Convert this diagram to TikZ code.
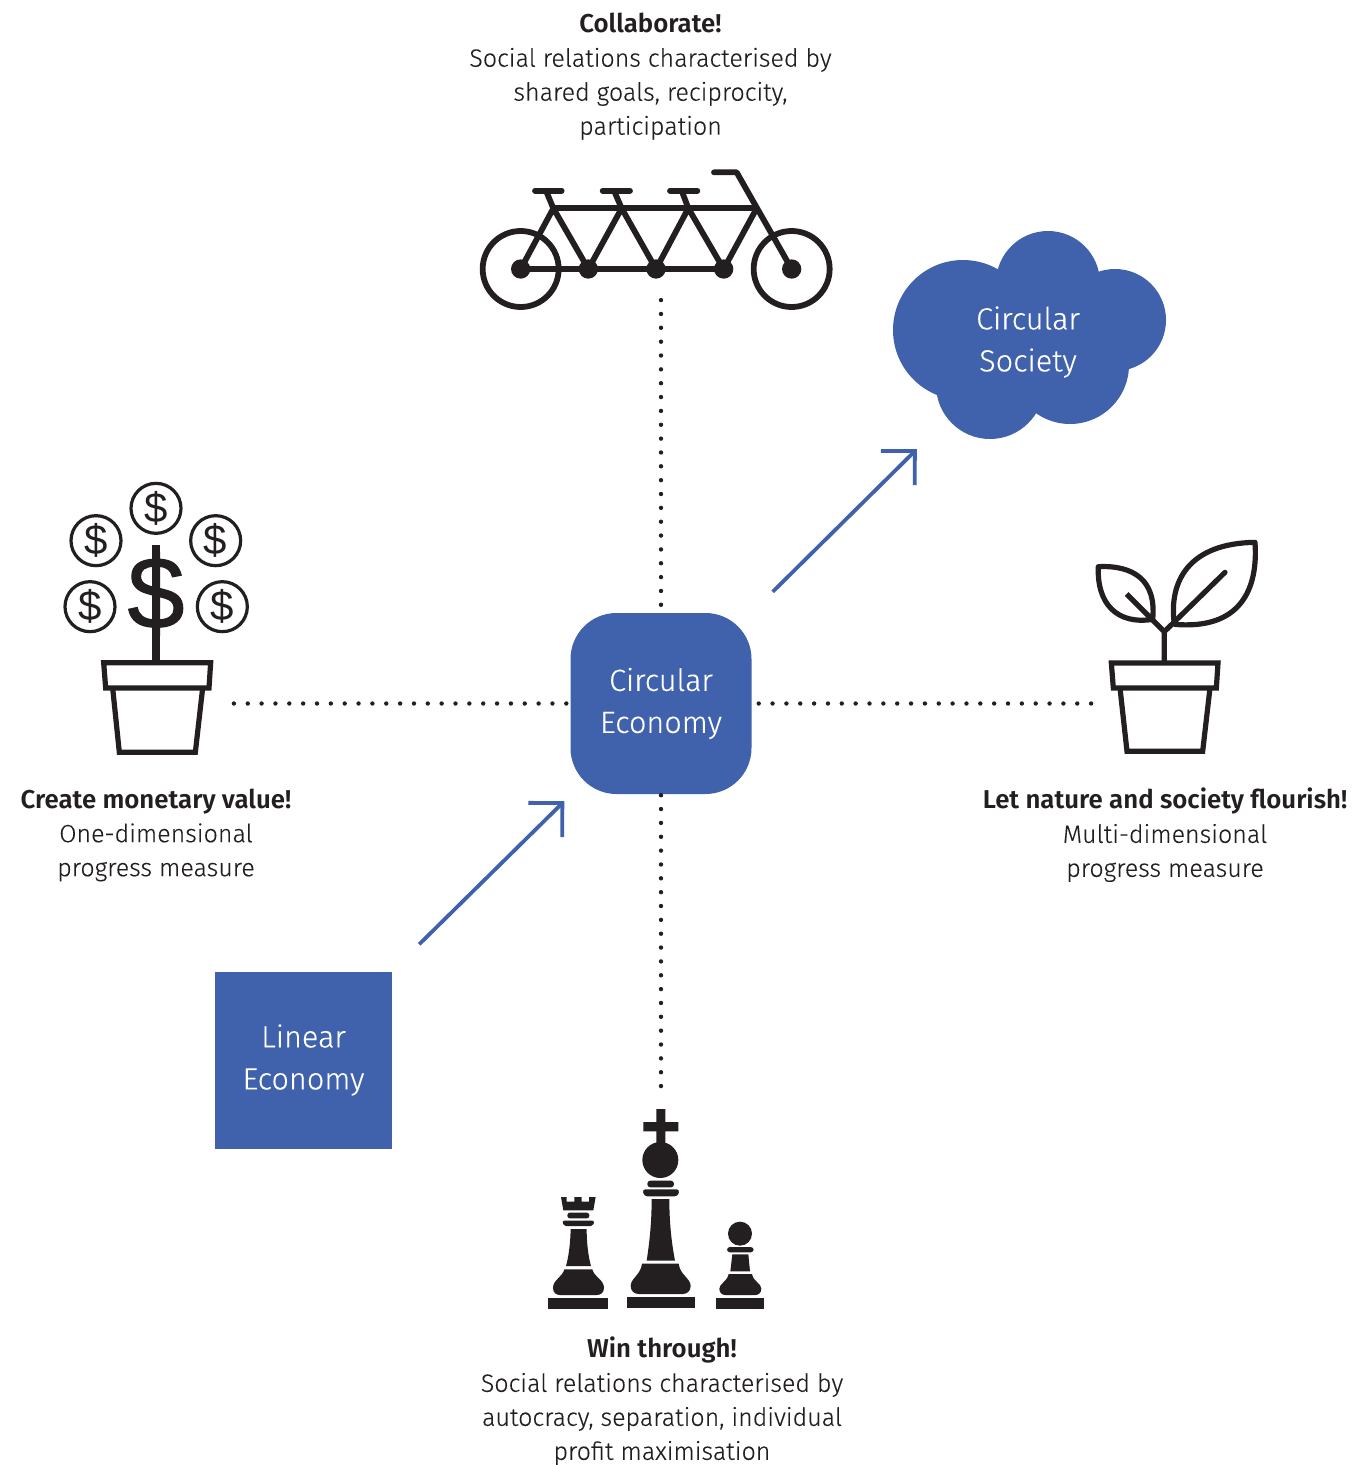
\documentclass[tikz,border=0pt]{standalone}
\usepackage{fontspec}
\usetikzlibrary{arrows.meta}
\setmainfont{Fira Sans Light}[FakeBold=0.2,BoldFont=Fira Sans SemiBold,BoldFeatures={FakeBold=0}]
\newfontfamily\dollarfont{Liberation Sans}
\newfontfamily\bigdollarfont{Liberation Sans}[FakeBold=1.2]
\definecolor{ceblue}{HTML}{4062AC}
\definecolor{ink}{HTML}{231F20}
\newcommand{\hd}[1]{{\fontsize{25.8}{34}\selectfont\bfseries #1}}
\tikzset{
  caption/.style={align=center,text=ink,font=\fontsize{25}{34}\selectfont,inner sep=0pt},
  ecobox/.style={fill=ceblue,text=white,align=center,font=\fontsize{30.6}{42}\selectfont,inner sep=0pt},
  dotline/.style={ink,line width=4.4pt,line cap=round,dash pattern=on 0pt off 13.85pt},
  blueline/.style={ceblue,line width=3.8pt,-{Straight Barb[length=24pt,width=48pt,line width=3.8pt]}},
  icon/.style={ink,line width=5.2pt,line join=miter},
  bikeline/.style={ink,line width=5.8pt},
  ficon/.style={fill=ink,draw=none},
  coin/.style={circle,draw=ink,line width=3.2pt,minimum size=50pt,inner sep=0pt,text=ink,font=\dollarfont\fontsize{42}{42}\selectfont},
}
\begin{document}
\begin{tikzpicture}[x=1pt,y=-1pt]
\useasboundingbox (0,0) rectangle (1352,1465);
% captions
\node[caption] (tcap) at (650.5,76.5) {\hd{Collaborate!}\\Social relations characterised by\\shared goals, reciprocity,\\participation};
\node[caption] (lcap) at (156,835) {\hd{Create monetary value!}\\One-dimensional\\progress measure};
\node[caption] (rcap) at (1165,835) {\hd{Let nature and society flourish!}\\Multi-dimensional\\progress measure};
\node[caption] (bcap) at (662,1401) {\hd{Win through!}\\Social relations characterised by\\autocracy, separation, individual\\profit maximisation};
% boxes
\node[ecobox,minimum width=177pt,minimum height=177pt] (le) at (303.5,1060) {Linear\\Economy};
\node[ecobox,minimum width=181pt,minimum height=181pt,rounded corners=46pt] (ce) at (661,703.5) {Circular\\Economy};
% cloud
\fill[ceblue] (963,330) circle[radius=70] (1048,283) circle[radius=52] (1115,320) circle[radius=51]
  (990,385) circle[radius=54] (1070,365) circle[radius=59] (1040,340) circle[radius=60];
\node[text=white,align=center,font=\fontsize{30.6}{42}\selectfont,inner sep=0pt,minimum width=272pt,minimum height=200pt] (cs) at (1028,342) {Circular\\Society};
% free ends
\coordinate (bike) at (661,298);
\coordinate (money) at (232.5,703.5);
\coordinate (plant) at (1093,703.5);
\coordinate (chess) at (661,1087);
% connectors
\draw[dotline] ([yshift=8pt]ce.north) -- (bike);
\draw[dotline] ([xshift=-4pt]ce.west) -- (money);
\draw[dotline] ([xshift=7pt]ce.east) -- (plant);
\draw[dotline] ([yshift=-1pt]ce.south) -- (chess);
\draw[blueline] ([shift={(27,-27)}]le.north east) -- ([shift={(-6,7)}]ce.south west);
\draw[blueline] ([shift={(21,-21)}]ce.north east) -- ([shift={(25,7)}]cs.south west);
% tandem bicycle
\begin{scope}[shift={(460,150)},scale=1/3]
  \draw[bikeline] (182,357) circle[radius=114] (995,357) circle[radius=114];
  \fill[ink] (182,357) circle[radius=29] (385,357) circle[radius=29] (588,357) circle[radius=29] (791,357) circle[radius=29] (995,357) circle[radius=29];
  \draw[bikeline] (182,357) -- (791,357);
  \draw[bikeline] (280,175) -- (890,175);
  \draw[bikeline,line join=round] (182,357) -- (280,175) -- (385,357) -- (485,175) -- (588,357) -- (685,175) -- (791,357) -- (890,175);
  \draw[bikeline] (258,122) -- (280,175) (462,122) -- (485,175) (665,122) -- (685,175);
  \draw[bikeline,line cap=round] (225,122) -- (305,122) (428,122) -- (510,122) (630,122) -- (712,122);
  \draw[bikeline,line cap=round,line join=round] (762,67) -- (830,67) -- (995,357);
\end{scope}
% money plant
\begin{scope}[shift={(50,470)},scale=1/3]
  \draw[icon] (161,578) -- (482,578) -- (477,654) -- (167,654) -- cycle;
  \draw[icon] (188,654) -- (208,847) -- (436,847) -- (458,654);
  \node[coin] (c1) at (318,115) {\$};
  \node[coin] (c2) at (138,212) {\$};
  \node[coin] (c3) at (497,212) {\$};
  \node[coin] (c4) at (120,410) {\$};
  \node[coin] (c5) at (517,410) {\$};
  \node[text=ink,inner sep=0pt,font=\bigdollarfont\fontsize{102}{102}\selectfont] (bigd) at (318,372) {\$};
  \fill[ink] (306,225) rectangle (330,575);
\end{scope}
% leaf plant
\begin{scope}[shift={(1080,530)},scale=1/3]
  \draw[icon] (94,399) -- (414,399) -- (409,474) -- (100,474) -- cycle;
  \draw[icon] (120,474) -- (141,664) -- (368,664) -- (390,474);
  \draw[icon] (253,399) -- (253,305) -- (140,192);
  \draw[icon,line cap=round] (253,305) -- (435,127);
  \draw[icon,line join=round] (283,283) .. controls (265,150) and (330,40) .. (525,37) .. controls (535,180) and (480,300) .. cycle;
  \draw[icon,line join=round] (218,268) .. controls (230,150) and (160,105) .. (55,110) .. controls (50,220) and (110,285) .. cycle;
\end{scope}
% chess pieces
\begin{scope}[shift={(530,1100)},scale=1/3]
  % rook
  \fill[ficon] (55,594) rectangle (235,627);
  \fill[ficon] (103,508) -- (187,508) .. controls (192,530) and (222,540) .. (222,563) .. controls (222,578) and (212,585) .. (200,585) -- (90,585) .. controls (78,585) and (69,578) .. (69,563) .. controls (69,540) and (98,530) .. cycle;
  \fill[ficon] (122,387) -- (170,387) .. controls (170,430) and (175,470) .. (183,498) -- (108,498) .. controls (116,470) and (121,430) .. cycle;
  \fill[ficon,rounded corners=2pt] (97,362) -- (193,362) -- (189,378) -- (101,378) -- cycle;
  \fill[ficon,rounded corners=2.5pt] (112,338) rectangle (178,355);
  \fill[ficon] (93,291) -- (110,291) -- (110,305) -- (133,305) -- (133,291) -- (155,291) -- (155,305) -- (177,305) -- (177,291) -- (197,291) -- (190,331) -- (100,331) -- cycle;
  % king
  \fill[ficon] (291,590) rectangle (496,624);
  \fill[ficon] (336,491) -- (446,491) .. controls (450,525) and (482,535) .. (482,558) .. controls (482,574) and (470,582) .. (458,582) -- (326,582) .. controls (314,582) and (302,574) .. (302,558) .. controls (302,535) and (332,525) .. cycle;
  \fill[ficon] (365,297) -- (418,297) .. controls (418,370) and (425,430) .. (435,482) -- (350,482) .. controls (358,430) and (365,370) .. cycle;
  \fill[ficon,rounded corners=3pt] (337,268) -- (449,268) -- (443,289) -- (343,289) -- cycle;
  \fill[ficon,rounded corners=3pt] (352,242) rectangle (432,262);
  \fill[ficon] (391,180) circle[radius=54];
  \fill[ficon] (379,27) rectangle (406,130) (340,66) rectangle (445,94);
  % pawn
  \fill[ficon] (559,594) rectangle (703,627);
  \fill[ficon] (596,522) -- (666,522) .. controls (670,545) and (694,550) .. (694,566) .. controls (694,578) and (686,585) .. (676,585) -- (586,585) .. controls (576,585) and (568,578) .. (568,566) .. controls (568,550) and (592,545) .. cycle;
  \fill[ficon] (607,463) -- (655,463) -- (660,514) -- (601,514) -- cycle;
  \fill[ficon,rounded corners=3pt] (591,441) rectangle (671,457);
  \fill[ficon] (630,401) circle[radius=36];
\end{scope}
\end{tikzpicture}
\end{document}
